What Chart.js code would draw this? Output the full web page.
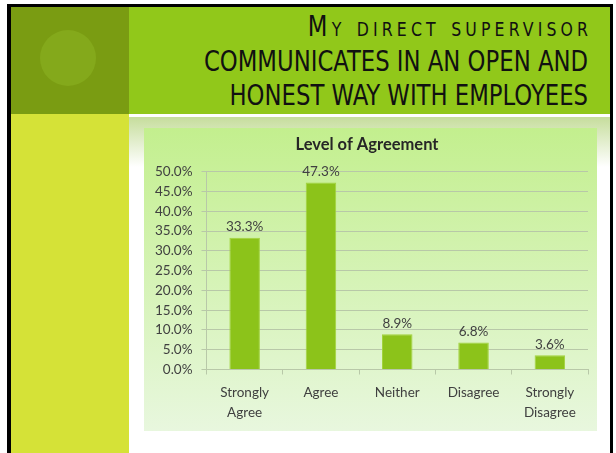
<!DOCTYPE html>
<html>
<head>
<meta charset="utf-8">
<script src="https://cdn.jsdelivr.net/npm/chart.js@4"></script>
<style>
  body { margin: 0; background: #fff; }
  #slide { position: relative; width: 616px; height: 453px; overflow: hidden; background: #fff; }
  .blk { position: absolute; }
  #frame { left: 7px; top: 4px; width: 599px; height: 460px; border: 3px solid #000; border-left-width: 4px; border-bottom: none; }
  #darkbox { left: 11px; top: 7px; width: 118px; height: 107px; background: #7a9c12; }
  #circle { left: 40px; top: 30px; width: 56px; height: 56px; border-radius: 50%; background: #84a91b; }
  #header { left: 129px; top: 7px; width: 481px; height: 107px; background: #91c81a; }
  #yellow { left: 11px; top: 114px; width: 118px; height: 340px; background: #d5e237; }
  #shade { left: 129px; top: 117px; width: 481px; height: 50px; background: linear-gradient(#c6dd9c, #ffffff); }
  #title { left: 88px; top: 9px; width: 500px; text-align: right; font-family: "DejaVu Sans Condensed", "Liberation Sans Narrow", sans-serif; font-size: 27.5px; line-height: 34.5px; font-variant: small-caps; color: #111; transform: scaleX(0.92); transform-origin: right top; }
  #title .first { letter-spacing: 4.5px; margin-right: -4.5px; }
  #box { left: 144px; top: 128px; width: 453px; height: 303px; background: linear-gradient(#c3ef8e, #e8f7de); }
</style>
</head>
<body>
<div id="slide">
  <div class="blk" id="frame"></div>
  <div class="blk" id="darkbox"></div>
  <div class="blk" id="circle"></div>
  <div class="blk" id="header"></div>
  <div class="blk" id="yellow"></div>
  <div class="blk" id="shade"></div>
  <div class="blk" id="title"><div class="first">My direct supervisor</div><div>COMMUNICATES IN AN OPEN AND</div><div>HONEST WAY WITH EMPLOYEES</div></div>
  <div class="blk" id="box"><canvas id="chart-canvas" width="453" height="303"></canvas></div>
</div>
<script>
// data
var categories = [["Strongly", "Agree"], "Agree", "Neither", "Disagree", ["Strongly", "Disagree"]];
var agreement = [33.3, 47.3, 8.9, 6.8, 3.6];
var yMax = 50;
var yStep = 5;

// small plugin for the value labels above the bars
var valueLabels = {
    id: 'valueLabels',
    afterDatasetsDraw: function (chart) {
        var ctx = chart.ctx;
        var meta = chart.getDatasetMeta(0);
        ctx.save();
        ctx.font = '13.5px Lato';
        ctx.fillStyle = '#404040';
        ctx.textAlign = 'center';
        ctx.textBaseline = 'bottom';
        meta.data.forEach(function (bar, i) {
            ctx.fillText(agreement[i].toFixed(1) + '%', bar.x, bar.y - 4);
        });
        ctx.restore();
    }
};

var ctx = document.getElementById('chart-canvas').getContext('2d');
var myChart = new Chart(ctx, {
    type: 'bar',
    data: {
        labels: categories,
        datasets: [
            {
                label: "Level of Agreement",
                backgroundColor: "#8cc31a",
                borderColor: "#a2d33c",
                borderWidth: 1,
                categoryPercentage: 1,
                barPercentage: 0.4,
                data: agreement
            }
        ]
    },
    options: {
        responsive: false,
        animation: false,
        layout: { padding: { left: 2, right: 9, top: 3, bottom: 0 } },
        plugins: {
            legend: { display: false },
            tooltip: { enabled: false },
            title: {
                display: true,
                text: 'Level of Agreement',
                color: '#262626',
                font: { family: 'Lato', size: 16.5, weight: 'bold' },
                padding: { top: 4, bottom: 17 }
            }
        },
        scales: {
            x: {
                grid: { drawOnChartArea: false, drawTicks: true, tickLength: 5, color: '#b8c8a8' },
                border: { display: true, color: '#b8c8a8' },
                ticks: { color: '#404040', font: { family: 'Lato', size: 13.5, lineHeight: 1.5 }, padding: 8, maxRotation: 0 }
            },
            y: {
                min: 0,
                max: yMax,
                grid: { color: '#b8c8a8', tickLength: 5 },
                border: { display: true, color: '#b8c8a8' },
                ticks: {
                    stepSize: yStep,
                    color: '#404040',
                    font: { family: 'Lato', size: 13.5 },
                    padding: 9,
                    callback: function (v) { return v.toFixed(1) + '%'; }
                }
            }
        }
    },
    plugins: [valueLabels]
});
</script>
</body>
</html>
